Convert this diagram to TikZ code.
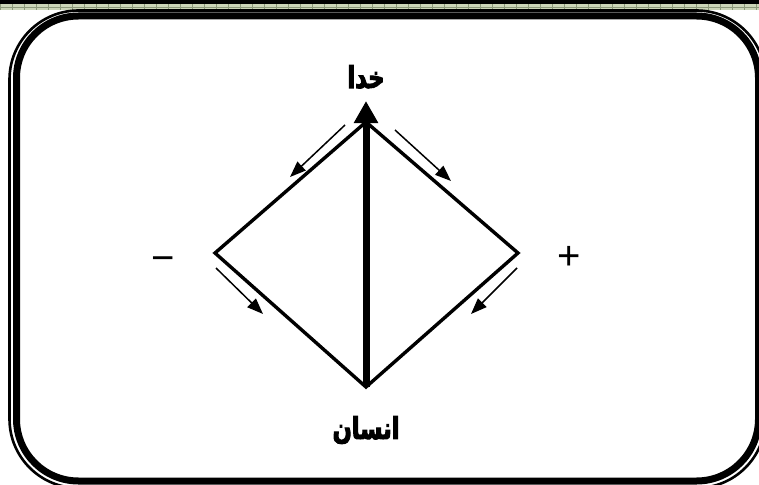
\documentclass[tikz,border=0pt]{standalone}
\usepackage{fontspec}
\setmainfont{Liberation Sans}
\newfontfamily\arabicfont[Script=Arabic,FakeStretch=0.75,FakeBold=3.5]{DejaVu Sans}
\TeXXeTstate=1
\usetikzlibrary{arrows.meta}
\definecolor{bandgreen}{rgb}{0.80,0.84,0.72}
\definecolor{bandline}{rgb}{0.55,0.60,0.48}
\begin{document}
\begin{tikzpicture}[
  x=1pt,
  y=-1pt,
  framethick/.style={draw=black, line width=7pt, rounded corners=62pt},
  framethin/.style={draw=black, line width=2.6pt, rounded corners=69pt},
  side/.style={draw=black, line width=3.4pt, line join=miter},
  axis/.style={draw=black, line width=7pt, -{Triangle[length=22pt,width=23pt]}},
  flow/.style={draw=black, line width=1.5pt, -{Triangle[length=16pt,width=12pt]}},
  word/.style={font=\fontsize{30}{34}\selectfont\arabicfont\bfseries, inner sep=0pt},
  sign/.style={font=\fontsize{40}{44}\selectfont, inner sep=0pt}
]
\useasboundingbox (0,0) rectangle (759,484);
\clip (0,0) rectangle (759,484);

% ---------------------------------------------------------------------------
% Page band and double frame
% ---------------------------------------------------------------------------
\fill[black] (0,0) rectangle (759,4.5);
\fill[bandgreen] (0,4.5) rectangle (759,10.5);
\foreach \x in {0,12,...,759}
  \draw[bandline, line width=0.3pt] (\x,4.5) -- (\x,10.5);
\draw[bandline, line width=0.3pt] (0,7.5) -- (759,7.5);
\fill[white] (5,10.5) rectangle (759,484);
\path[framethin] (9.5,10.5) rectangle (765.5,488);
\path[framethick] (16.5,16) rectangle (758.5,481);

% ---------------------------------------------------------------------------
% Diamond
% ---------------------------------------------------------------------------
\coordinate (top) at (366,122);
\coordinate (left) at (215,253);
\coordinate (right) at (518,253);
\coordinate (bottom) at (366,387);
\coordinate (tip) at (366,101);

\draw[side] (top) -- (left) -- (bottom) -- (right) -- cycle;
\draw[axis] (bottom) -- (tip);

% small arrows along the sides
\coordinate (ulA) at (345,125);
\coordinate (ulB) at (290,177);
\coordinate (urA) at (395,130);
\coordinate (urB) at (451,181);
\coordinate (llA) at (216,268);
\coordinate (llB) at (263,314);
\coordinate (lrA) at (517,268);
\coordinate (lrB) at (471,314);
\draw[flow] (ulA) -- (ulB);
\draw[flow] (urA) -- (urB);
\draw[flow] (llA) -- (llB);
\draw[flow] (lrA) -- (lrB);

% ---------------------------------------------------------------------------
% Labels
% ---------------------------------------------------------------------------
\node[word] (god) at (366,77) {\beginR خدا\endR};
\node[word] (human) at (366,430) {\beginR انسان\endR};
\node[sign] (minus) at (163,264) {−};
\node[sign] (plus) at (569,258) {+};

\end{tikzpicture}
\end{document}
